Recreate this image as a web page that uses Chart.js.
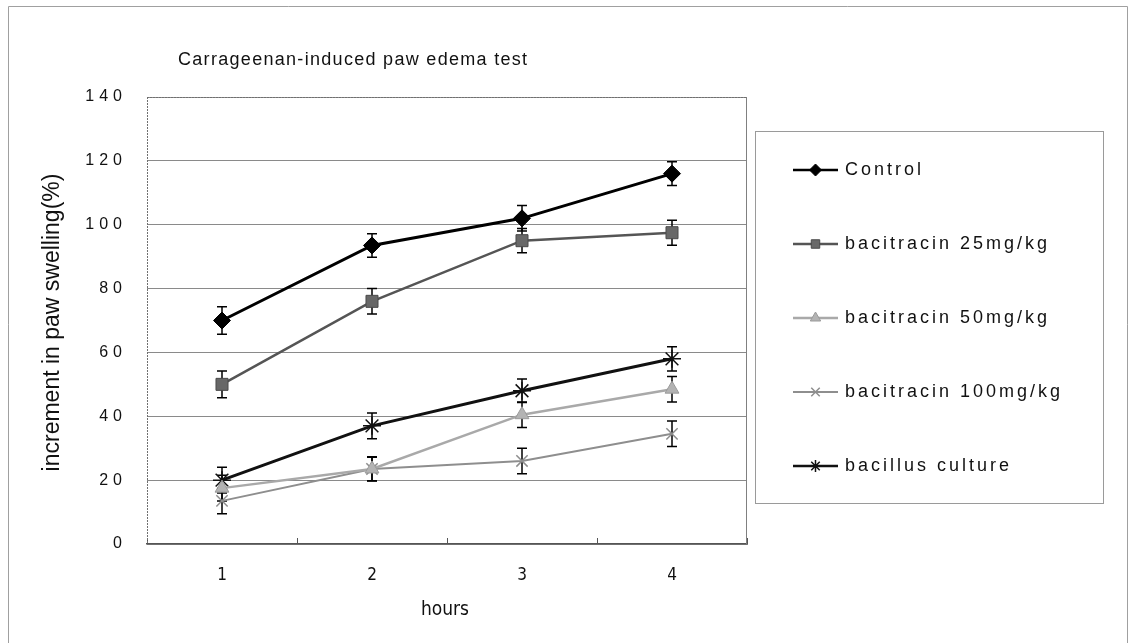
<!DOCTYPE html>
<html>
<head>
<meta charset="utf-8">
<script src="https://cdn.jsdelivr.net/npm/chart.js@4/dist/chart.umd.min.js"></script>
<style>
  html, body { margin: 0; padding: 0; background: #fff; }
  #wrap { width: 1130px; height: 643px; position: relative; }
</style>
</head>
<body>
<div id="wrap"><canvas id="c" width="1130" height="643"></canvas></div>
<script>
// Paw swelling increment (%) per hour after carrageenan injection, mean ± error
const hours = ['1', '2', '3', '4'];
const seriesNames = ['Control', 'bacitracin 25mg/kg', 'bacitracin 50mg/kg', 'bacitracin 100mg/kg', 'bacillus culture'];

const control    = [70, 93.5, 102, 116];
const controlErr = [4.3, 3.7, 4, 3.7];
const baci25     = [50, 76, 95, 97.5];
const baci25Err  = [4.2, 4, 3.8, 3.9];
const baci50     = [17.5, 23.5, 40.5, 48.5];
const baci50Err  = [4, 3.7, 4, 4];
const baci100    = [13.5, 23.5, 26, 34.5];
const baci100Err = [4, 3.8, 4, 4];
const culture    = [20, 37, 48, 58];
const cultureErr = [4, 4, 3.7, 3.8];

const yMin = 0, yMax = 140, yStep = 20;

const FONT = "'Liberation Sans', Arial, sans-serif";
const NARROW = "'Liberation Sans Narrow', 'DejaVu Sans Condensed', 'Liberation Sans', sans-serif";

function series(label, values, errors, style) {
  return Object.assign({
    label: label,
    data: values,
    errorBars: errors,
    tension: 0,
    fill: false
  }, style);
}

const datasets = [
  series(seriesNames[0], control, controlErr, {
    borderColor: '#000', borderWidth: 3,
    pointStyle: 'rectRot', pointRadius: 8.5,
    pointBackgroundColor: '#000', pointBorderColor: '#000', pointBorderWidth: 1
  }),
  series(seriesNames[1], baci25, baci25Err, {
    borderColor: '#555', borderWidth: 2.5,
    pointStyle: 'rect', pointRadius: 8.5,
    pointBackgroundColor: '#686868', pointBorderColor: '#4a4a4a', pointBorderWidth: 1
  }),
  series(seriesNames[2], baci50, baci50Err, {
    borderColor: '#a9a9a9', borderWidth: 2.5,
    pointStyle: 'triangle', pointRadius: 8,
    pointBackgroundColor: '#b3b3b3', pointBorderColor: '#9a9a9a', pointBorderWidth: 1
  }),
  series(seriesNames[3], baci100, baci100Err, {
    borderColor: '#8e8e8e', borderWidth: 2,
    pointStyle: 'crossRot', pointRadius: 8,
    pointBackgroundColor: '#8e8e8e', pointBorderColor: '#8e8e8e', pointBorderWidth: 1.5
  }),
  series(seriesNames[4], culture, cultureErr, {
    borderColor: '#111', borderWidth: 3,
    pointStyle: 'star', pointRadius: 9,
    pointBackgroundColor: '#111', pointBorderColor: '#111', pointBorderWidth: 1.5
  })
];

// Wide letter spacing for the tick numbers, as in the printed figure
const spacingPlugin = {
  id: 'spacing',
  beforeDraw(chart) { chart.ctx.letterSpacing = '5px'; }
};

// Vertical error bars with caps, placed through the y scale
const errorBarPlugin = {
  id: 'errorBars',
  beforeDatasetsDraw(chart) {
    const ctx = chart.ctx;
    const yS = chart.scales.y;
    ctx.save();
    ctx.strokeStyle = '#000';
    ctx.lineWidth = 1.5;
    chart.data.datasets.forEach((ds, i) => {
      const meta = chart.getDatasetMeta(i);
      ds.data.forEach((v, j) => {
        const e = ds.errorBars[j];
        const x = meta.data[j].x;
        const yTop = yS.getPixelForValue(v + e);
        const yBot = yS.getPixelForValue(v - e);
        ctx.beginPath();
        ctx.moveTo(x, yTop); ctx.lineTo(x, yBot);
        ctx.moveTo(x - 5, yTop); ctx.lineTo(x + 5, yTop);
        ctx.moveTo(x - 5, yBot); ctx.lineTo(x + 5, yBot);
        ctx.stroke();
      });
    });
    ctx.restore();
  }
};

function drawMarker(ctx, style, x, y, r, ds) {
  const opts = { pointStyle: style, radius: r, rotation: 0, borderWidth: ds.pointBorderWidth };
  ctx.fillStyle = ds.pointBackgroundColor;
  ctx.strokeStyle = ds.pointBorderColor;
  ctx.lineWidth = ds.pointBorderWidth;
  if (Chart.helpers && Chart.helpers.drawPoint) {
    Chart.helpers.drawPoint(ctx, opts, x, y);
  }
}

// Title, axis titles, frames and the boxed legend
const decorPlugin = {
  id: 'decor',
  afterDraw(chart) {
    const ctx = chart.ctx;
    const a = chart.chartArea;
    ctx.save();

    // outer frame
    ctx.strokeStyle = '#a0a0a0';
    ctx.lineWidth = 1;
    ctx.beginPath();
    ctx.moveTo(8.5, 643); ctx.lineTo(8.5, 6.5); ctx.lineTo(1127.5, 6.5); ctx.lineTo(1127.5, 643);
    ctx.stroke();

    // plot area edges: dotted top and left, plain right
    ctx.strokeStyle = '#707070';
    ctx.setLineDash([2, 1]);
    ctx.beginPath();
    ctx.moveTo(a.left, a.top + 0.5); ctx.lineTo(a.right, a.top + 0.5);
    ctx.moveTo(a.left + 0.5, a.top); ctx.lineTo(a.left + 0.5, a.bottom);
    ctx.stroke();
    ctx.setLineDash([]);
    ctx.strokeStyle = '#808080';
    ctx.beginPath();
    ctx.moveTo(a.right - 0.5, a.top); ctx.lineTo(a.right - 0.5, a.bottom);
    ctx.stroke();

    ctx.fillStyle = '#111';

    // chart title
    ctx.letterSpacing = '1.3px';
    ctx.font = '18px ' + FONT;
    ctx.textAlign = 'left';
    ctx.textBaseline = 'middle';
    ctx.fillText('Carrageenan-induced paw edema test', 178, 60);

    // y axis title
    ctx.letterSpacing = '0px';
    ctx.save();
    ctx.translate(53, (a.top + a.bottom) / 2 + 2);
    ctx.rotate(-Math.PI / 2);
    ctx.font = '23px ' + FONT;
    ctx.textAlign = 'center';
    ctx.fillText('increment in paw swelling(%)', 0, 0);
    ctx.restore();

    // x axis title
    ctx.font = '19px ' + NARROW;
    ctx.textAlign = 'center';
    ctx.fillText('hours', (a.left + a.right) / 2 - 2, 610);

    // legend box
    ctx.strokeStyle = '#9a9a9a';
    ctx.lineWidth = 1;
    ctx.strokeRect(755.5, 131.5, 348, 372);

    chart.data.datasets.forEach((ds, i) => {
      const cy = 170 + 74 * i;
      ctx.strokeStyle = ds.borderColor;
      ctx.lineWidth = Math.min(ds.borderWidth, 2.5);
      ctx.beginPath();
      ctx.moveTo(793, cy); ctx.lineTo(838, cy);
      ctx.stroke();
      drawMarker(ctx, ds.pointStyle, 815.5, cy, 6, ds);
      ctx.fillStyle = '#111';
      ctx.letterSpacing = '3px';
      ctx.font = '18px ' + FONT;
      ctx.textAlign = 'left';
      ctx.textBaseline = 'middle';
      ctx.fillText(ds.label, 845, cy);
    });
    ctx.restore();
  }
};

new Chart(document.getElementById('c'), {
  type: 'line',
  data: { labels: hours, datasets: datasets },
  options: {
    responsive: false,
    animation: false,
    devicePixelRatio: 1,
    layout: { padding: { top: 97, right: 383, left: 0, bottom: 0 } },
    plugins: {
      legend: { display: false },
      tooltip: { enabled: false },
      title: { display: false }
    },
    scales: {
      x: {
        type: 'category',
        offset: true,
        grid: {
          display: true, drawOnChartArea: false, drawTicks: true,
          tickLength: -6, color: '#555', offset: true, lineWidth: 1
        },
        border: { display: true, color: '#555', width: 1.5 },
        ticks: { color: '#111', padding: 27, labelOffset: 2.5, font: { family: NARROW, size: 17 } },
        afterFit(scale) { scale.height = 99; }
      },
      y: {
        min: yMin, max: yMax,
        grid: { color: '#8a8a8a', lineWidth: 1, drawTicks: false },
        border: { display: false },
        ticks: { stepSize: yStep, color: '#111', padding: 20, font: { family: FONT, size: 16 } },
        afterFit(scale) { scale.width = 147; }
      }
    }
  },
  plugins: [spacingPlugin, errorBarPlugin, decorPlugin]
});
</script>
</body>
</html>
